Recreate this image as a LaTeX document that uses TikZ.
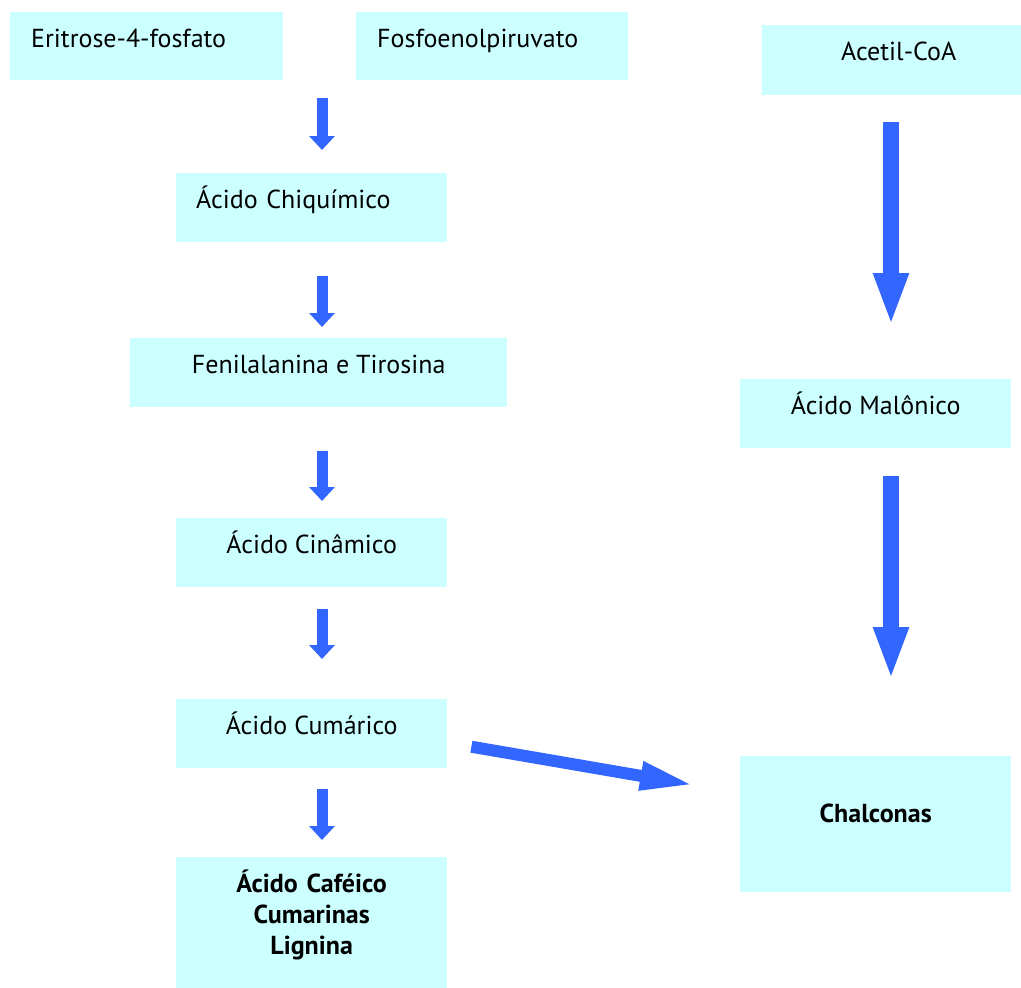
\documentclass[tikz,border=0pt]{standalone}
\usepackage{fontspec}
\setmainfont{PT Sans}
\usetikzlibrary{arrows.meta,positioning,calc}
\definecolor{caixacor}{HTML}{CCFFFF}
\definecolor{setacor}{HTML}{3366FF}

\begin{document}
\begin{tikzpicture}[
  x=1pt, y=-1pt,
  font=\fontsize{26}{31}\selectfont,
  cx/.style={fill=caixacor, anchor=north west, inner xsep=0pt, inner ysep=0pt,
    text height=35pt, align=center},
  setap/.style={draw=setacor, line width=11pt, -{Triangle[width=25pt, length=14pt]}},
  setag/.style={draw=setacor, line width=16pt, -{Triangle[width=32pt, length=53pt]}},
  setad/.style={draw=setacor, line width=12pt, -{Triangle[width=26pt, length=55pt]}}]

\useasboundingbox (0,0) rectangle (1021,988);

% ===== chiquimato (left) =====
\node[cx, text width=231pt, inner xsep=21pt, align=left, text depth=33pt] (eri) at (10,12) {Eritrose-4-fosfato};
\node[cx, text width=230pt, inner xsep=21pt, align=left, text depth=33pt] (fosf) at (356,12) {Fosfoenolpiruvato};
\node[cx, text width=231pt, inner xsep=20pt, align=left, text depth=34pt] (chiq) at (176,173) {Ácido Chiquímico};
\node[cx, minimum width=377pt, text depth=34pt] (feni) at (130,338) {Fenilalanina e Tirosina};
\node[cx, minimum width=271pt, text depth=34pt] (cina) at (176,518) {Ácido Cinâmico};
\node[cx, minimum width=271pt, text depth=34pt] (cuma) at (176,699) {Ácido Cumárico};
\node[cx, text width=271pt, text depth=96pt, font=\fontsize{26}{31}\selectfont\bfseries] (prod) at (176,857)
  {Ácido Caféico\\Cumarinas\\Lignina};

% ===== acetato (right) =====
\node[cx, minimum width=259pt, text depth=35pt] (acet) at (762,25) {\hspace*{14pt}Acetil-CoA};
\node[cx, minimum width=271pt, text depth=34pt] (malo) at (740,379) {Ácido Malônico};
\node[cx, minimum width=271pt, text height=66pt, text depth=70pt, font=\fontsize{26}{31}\selectfont\bfseries] (chal) at (740,756) {Chalconas};

% ===== edges =====
\coordinate (colE) at (322,0);
\coordinate (colD) at (891,0);
\draw[setap, shorten <=18pt, shorten >=23pt] (eri.south -| colE) -- (chiq.north -| colE);
\draw[setap, shorten <=34pt, shorten >=11pt] (chiq.south -| colE) -- (feni.north -| colE);
\draw[setap, shorten <=44pt, shorten >=17pt] (feni.south -| colE) -- (cina.north -| colE);
\draw[setap, shorten <=22pt, shorten >=40pt] (cina.south -| colE) -- (cuma.north -| colE);
\draw[setap, shorten <=21pt, shorten >=17pt] (cuma.south -| colE) -- (prod.north -| colE);
\draw[setag, shorten <=27pt, shorten >=53pt] (acet.south -| colD) -- (malo.north -| colD);
\draw[setag, shorten <=28pt, shorten >=76pt] (malo.south -| colD) -- (chal.north -| colD);
\draw[setad] ([shift={(24,13)}]cuma.east) -- ([shift={(-45,-39)}]chal.west);

\end{tikzpicture}
\end{document}
